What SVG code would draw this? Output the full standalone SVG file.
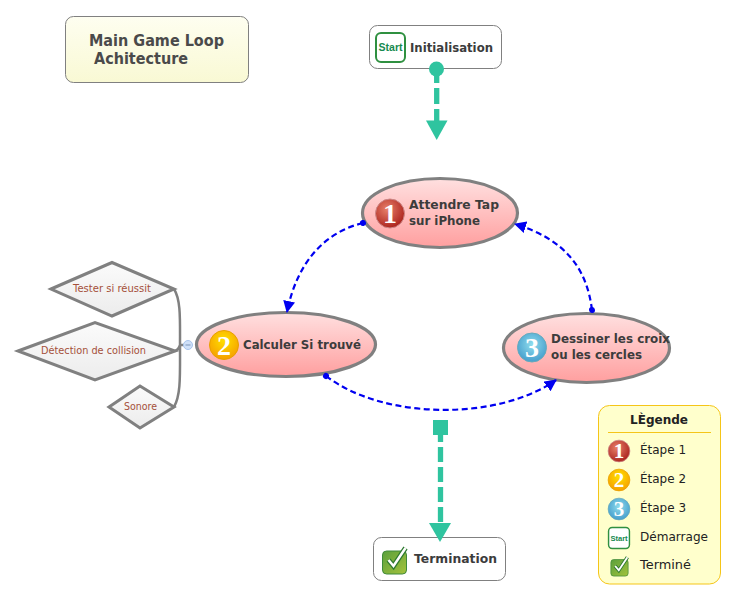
<svg xmlns="http://www.w3.org/2000/svg" width="737" height="601" viewBox="0 0 737 601">
<style>
.t{font-family:"DejaVu Sans","Liberation Sans",sans-serif}
.nt{font-size:12.5px;font-weight:bold;fill:#3c3c3c}
.dt{font-size:10px;fill:#a5503a}
.lt{font-size:12.5px;fill:#222}
.oval{fill:url(#pink);stroke:#808080;stroke-width:3.2}
.dia{fill:url(#grey);stroke:#808080;stroke-width:3}
.box{fill:#fff;stroke:#808080;stroke-width:1}
.blue{fill:none;stroke:#0000f0;stroke-width:2.2;stroke-dasharray:6 3.5}
.gr{fill:none;stroke:#2fc49f;stroke-width:5.3;stroke-dasharray:16 5}
.num{font-family:"Liberation Serif",serif;font-weight:bold;fill:#fff;text-anchor:middle}
.st{font-family:"Liberation Sans",sans-serif;font-weight:bold;fill:#178a50;text-anchor:middle}
</style>
<defs>
<linearGradient id="pink" x1="0" y1="0" x2="0" y2="1"><stop offset="0" stop-color="#ffe0e0"/><stop offset="1" stop-color="#ff9f9f"/></linearGradient>
<linearGradient id="grey" x1="0" y1="0" x2="0" y2="1"><stop offset="0" stop-color="#fbfbfb"/><stop offset="1" stop-color="#ececec"/></linearGradient>
<linearGradient id="cream" x1="0" y1="0" x2="0" y2="1"><stop offset="0" stop-color="#fefef0"/><stop offset="1" stop-color="#f9f9d4"/></linearGradient>
<radialGradient id="red" cx="0.4" cy="0.35" r="0.7"><stop offset="0" stop-color="#e8806a"/><stop offset="1" stop-color="#a81f1a"/></radialGradient>
<radialGradient id="orange" cx="0.5" cy="0.35" r="0.7"><stop offset="0" stop-color="#ffe000"/><stop offset="1" stop-color="#f59a00"/></radialGradient>
<radialGradient id="sky" cx="0.5" cy="0.4" r="0.7"><stop offset="0" stop-color="#8fdcec"/><stop offset="1" stop-color="#3a94c8"/></radialGradient>
<linearGradient id="leaf" x1="0" y1="0" x2="1" y2="1"><stop offset="0" stop-color="#5aa03c"/><stop offset="1" stop-color="#a4c23c"/></linearGradient>
<marker id="blueHead" markerUnits="userSpaceOnUse" markerWidth="13" markerHeight="13" refX="11" refY="6" orient="auto"><path d="M0,0 L12,6 L0,12 Z" fill="#0000f0"/></marker>
<marker id="blueDot" markerUnits="userSpaceOnUse" markerWidth="8" markerHeight="8" refX="4" refY="4" orient="auto"><circle cx="4" cy="4" r="3" fill="#0000f0"/></marker>
<g id="ic1"><circle r="14.5" fill="url(#red)" stroke="#c88" stroke-width="1"/><text class="num" y="9.500" font-size="28">1</text></g>
<g id="ic2"><circle r="14.5" fill="url(#orange)" stroke="#e8a000" stroke-width="1"/><text class="num" y="9.500" font-size="28">2</text></g>
<g id="ic3"><circle r="14.5" fill="url(#sky)" stroke="#6ab" stroke-width="1"/><text class="num" y="9.500" font-size="28">3</text></g>
<g id="icStart"><rect x="-14.5" y="-14.5" width="29" height="29" rx="5" fill="#fff" stroke="#2f9040" stroke-width="2"/><text class="st" y="3.5" font-size="10" textLength="24" lengthAdjust="spacingAndGlyphs">Start</text></g>
<g id="icCheck"><rect x="-12" y="-9" width="24" height="23" rx="4" fill="url(#leaf)" stroke="#3f8a3a"/><path d="M-6,0 L-1,6 L11,-12" fill="none" stroke="#2f7a30" stroke-width="5"/><path d="M-6,0 L-1,6 L11,-12" fill="none" stroke="#fff" stroke-width="2.5"/></g>
</defs>
<rect width="737" height="601" fill="#fff"/>

<g id="title"><rect x="65.500" y="16.500" width="183" height="66" rx="8" fill="url(#cream)" stroke="#808080"/>
<text class="t" x="89" y="46" font-size="15.500" font-weight="bold" fill="#4a4a4a" textLength="135" lengthAdjust="spacingAndGlyphs">Main Game Loop</text>
<text class="t" x="94" y="64" font-size="15.500" font-weight="bold" fill="#4a4a4a" textLength="94" lengthAdjust="spacingAndGlyphs">Achitecture</text></g>

<g id="init"><rect class="box" x="369.500" y="25.500" width="132" height="43" rx="8"/>
<use href="#icStart" x="390.500" y="47.500"/>
<text class="t nt" x="410" y="52" textLength="83" lengthAdjust="spacingAndGlyphs">Initialisation</text></g>

<g id="termination"><rect class="box" x="373.500" y="537.500" width="132" height="43" rx="8"/>
<use href="#icCheck" x="394.500" y="560"/>
<text class="t nt" x="414" y="563" textLength="83" lengthAdjust="spacingAndGlyphs">Termination</text></g>

<g id="step1"><ellipse class="oval" cx="440" cy="213" rx="77.500" ry="34.500"/>
<use href="#ic1" x="390" y="213.500"/>
<text class="t nt" x="409" y="209" textLength="90" lengthAdjust="spacingAndGlyphs">Attendre Tap</text>
<text class="t nt" x="409" y="225" textLength="71" lengthAdjust="spacingAndGlyphs">sur iPhone</text></g>

<g id="step2"><ellipse class="oval" cx="286" cy="344.500" rx="89.500" ry="32"/>
<use href="#ic2" x="224" y="345"/>
<text class="t nt" x="243" y="349" textLength="118" lengthAdjust="spacingAndGlyphs">Calculer Si trouvé</text></g>

<g id="step3"><ellipse class="oval" cx="586.500" cy="348" rx="83" ry="34.500"/>
<use href="#ic3" x="532" y="347.500"/>
<text class="t nt" x="551" y="343" textLength="119" lengthAdjust="spacingAndGlyphs">Dessiner les croix</text>
<text class="t nt" x="551" y="359" textLength="91" lengthAdjust="spacingAndGlyphs">ou les cercles</text></g>

<g id="d1"><path class="dia" d="M51,289 L112,262.500 L174,289 L112,316 Z"/>
<text class="t dt" x="73" y="292" textLength="78" lengthAdjust="spacingAndGlyphs">Tester si réussit</text></g>
<g id="d2"><path class="dia" d="M18,351 L95,322.500 L175,351 L95,380 Z"/>
<text class="t dt" x="41" y="354" textLength="105" lengthAdjust="spacingAndGlyphs">Détection de collision</text></g>
<g id="d3"><path class="dia" d="M109,407 L140,386 L174,407 L140,428 Z"/>
<text class="t dt" x="124" y="410" textLength="33" lengthAdjust="spacingAndGlyphs">Sonore</text></g>

<g id="connectors">
<path class="blue" marker-start="url(#blueDot)" marker-end="url(#blueHead)" d="M363,223 C325,232 297,262 287,312"/>
<path class="blue" marker-start="url(#blueDot)" marker-end="url(#blueHead)" d="M592,310 C587,270 567,240 515,224"/>
<path class="blue" marker-start="url(#blueDot)" marker-end="url(#blueHead)" d="M326,376 C385,421 500,420 556,380"/>
<path class="gr" d="M436.700,67 V122"/>
<circle cx="436.500" cy="69" r="7.500" fill="#2fc49f"/>
<path d="M426,120.500 H447.500 L436.700,140 Z" fill="#2fc49f"/>
<path class="gr" style="stroke-dasharray:15 5" d="M440.500,427 V524"/>
<rect x="433" y="420" width="15" height="15" fill="#2fc49f"/>
<path d="M429,523 H451 L440,542 Z" fill="#2fc49f"/>
<path d="M174,289 C181,300 180,320 180,345 C180,375 181,395 174,407 M175,351 C178,350 179,348 180,345 H184" fill="none" stroke="#808080" stroke-width="2.500"/>
</g>

<g id="collapse"><circle cx="188" cy="345" r="4.500" fill="#cfe0f8" stroke="#a8c4ec"/><path d="M185.500,345 H190.500" stroke="#7a94b8"/></g>

<g id="legend"><rect x="598.500" y="405.500" width="122" height="178.500" rx="11" fill="#ffffcc" stroke="#f5c518"/>
<text class="t" x="630" y="424" font-size="12.500" font-weight="bold" fill="#222" textLength="58" lengthAdjust="spacingAndGlyphs">LÈgende</text>
<path d="M608,432.500 H711" stroke="#f5c518"/>
<g transform="translate(619,451) scale(.75)"><use href="#ic1"/></g>
<text class="t lt" x="640" y="454" textLength="46" lengthAdjust="spacingAndGlyphs">Étape 1</text>
<g transform="translate(619,480) scale(.75)"><use href="#ic2"/></g>
<text class="t lt" x="640" y="483" textLength="46" lengthAdjust="spacingAndGlyphs">Étape 2</text>
<g transform="translate(619,509) scale(.75)"><use href="#ic3"/></g>
<text class="t lt" x="640" y="512" textLength="46" lengthAdjust="spacingAndGlyphs">Étape 3</text>
<g transform="translate(619,538) scale(.72)"><use href="#icStart"/></g>
<text class="t lt" x="640" y="541" textLength="68" lengthAdjust="spacingAndGlyphs">Démarrage</text>
<g transform="translate(619.500,566) scale(.72)"><use href="#icCheck"/></g>
<text class="t lt" x="640" y="569" textLength="51" lengthAdjust="spacingAndGlyphs">Terminé</text></g>
</svg>
